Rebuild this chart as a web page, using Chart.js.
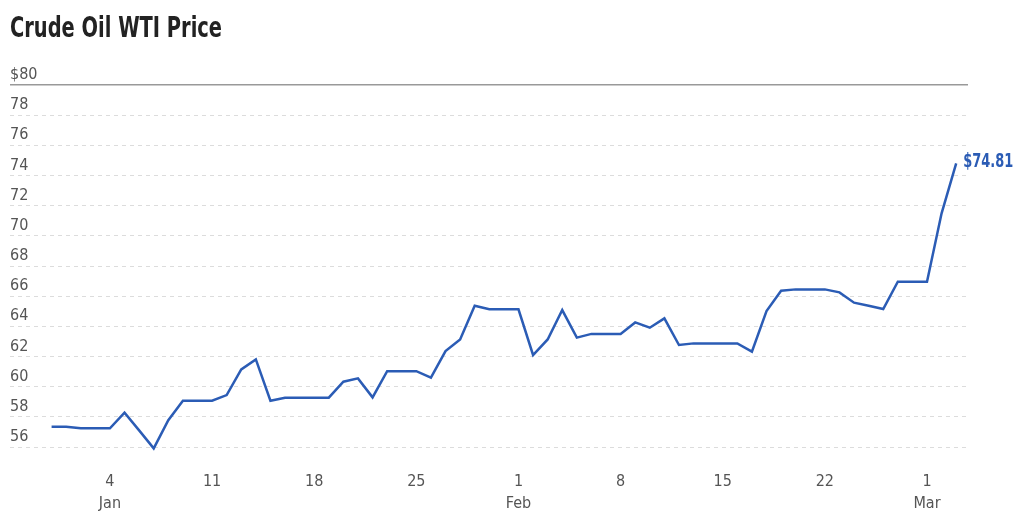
<!DOCTYPE html>
<html>
<head>
<meta charset="utf-8">
<script src="https://cdn.jsdelivr.net/npm/chart.js@4/dist/chart.umd.min.js"></script>
<style>
  body { margin: 0; background: #fff; }
  #wrap { position: relative; width: 1024px; height: 518px; }
  #title {
    position: absolute; left: 10px; top: 14px; white-space: nowrap;
    font: bold 28px 'Liberation Sans Narrow', 'DejaVu Sans Condensed', sans-serif;
    line-height: 1; color: #222; transform-origin: 0 0;
  }
  canvas { position: absolute; left: 0; top: 0; }
</style>
</head>
<body>
<div id="wrap">
  <canvas id="myChart" width="1024" height="518"></canvas>
  <div id="title">Crude Oil WTI Price</div>
</div>
<script>
const FONT = "'Liberation Sans Narrow', 'DejaVu Sans Condensed', sans-serif";
const BLUE = '#2b5cb5';

// daily dates (weekends / holidays carry the previous close)
const dates = [
    '2025-12-31',
    '2026-01-01', '2026-01-02', '2026-01-03', '2026-01-04', '2026-01-05', '2026-01-06', '2026-01-07',
    '2026-01-08', '2026-01-09', '2026-01-10', '2026-01-11', '2026-01-12', '2026-01-13', '2026-01-14',
    '2026-01-15', '2026-01-16', '2026-01-17', '2026-01-18', '2026-01-19', '2026-01-20', '2026-01-21',
    '2026-01-22', '2026-01-23', '2026-01-24', '2026-01-25', '2026-01-26', '2026-01-27', '2026-01-28',
    '2026-01-29', '2026-01-30', '2026-01-31', '2026-02-01', '2026-02-02', '2026-02-03', '2026-02-04',
    '2026-02-05', '2026-02-06', '2026-02-07', '2026-02-08', '2026-02-09', '2026-02-10', '2026-02-11',
    '2026-02-12', '2026-02-13', '2026-02-14', '2026-02-15', '2026-02-16', '2026-02-17', '2026-02-18',
    '2026-02-19', '2026-02-20', '2026-02-21', '2026-02-22', '2026-02-23', '2026-02-24', '2026-02-25',
    '2026-02-26', '2026-02-27', '2026-02-28', '2026-03-01', '2026-03-02', '2026-03-03',
];

const prices = [
    57.34,
    57.34, 57.24, 57.24, 57.24, 58.27, 57.10, 55.91,
    57.78, 59.07, 59.07, 59.07, 59.44, 61.14, 61.81,
    59.07, 59.27, 59.27, 59.27, 59.27, 60.33, 60.55,
    59.29, 61.03, 61.03, 61.03, 60.60, 62.36, 63.13,
    65.37, 65.13, 65.13, 65.13, 62.10, 63.13, 65.08,
    63.25, 63.50, 63.50, 63.50, 64.26, 63.91, 64.53,
    62.76, 62.87, 62.87, 62.87, 62.87, 62.32, 65.01,
    66.36, 66.45, 66.45, 66.45, 66.25, 65.57, 65.36,
    65.15, 66.96, 66.96, 66.96, 71.49, 74.81,
];

const tickDates = ['2026-01-04', '2026-01-11', '2026-01-18', '2026-01-25', '2026-02-01',
                   '2026-02-08', '2026-02-15', '2026-02-22', '2026-03-01'];
const tickDays = ['4', '11', '18', '25', '1', '8', '15', '22', '1'];
const tickMonths = ['Jan', '', '', '', 'Feb', '', '', '', 'Mar'];

const yMin = 56, yMax = 80, yStep = 2;

const DAY0 = Date.parse(dates[0]);
const dayIndex = d => (Date.parse(d) - DAY0) / 864e5;

const points = dates.map((d, i) => ({ x: dayIndex(d), y: prices[i] }));
const tickPos = tickDates.map(dayIndex);

// squeeze the title to the condensed width of the original
const title = document.getElementById('title');
title.style.transform = `scaleX(${212 / title.getBoundingClientRect().width})`;

const endLabel = {
    id: 'endLabel',
    afterDatasetsDraw(chart) {
        const meta = chart.getDatasetMeta(0);
        const pt = meta.data[meta.data.length - 1];
        const ctx = chart.ctx;
        const txt = '$' + prices[prices.length - 1].toFixed(2);
        ctx.save();
        ctx.font = 'bold 20px ' + FONT;
        ctx.fillStyle = BLUE;
        ctx.textAlign = 'left';
        ctx.textBaseline = 'middle';
        const s = Math.min(1, 50 / ctx.measureText(txt).width);
        ctx.translate(pt.x + 7, pt.y - 1);
        ctx.scale(s, 1);
        ctx.fillText(txt, 0, 0);
        ctx.restore();
    }
};

new Chart(document.getElementById('myChart'), {
    type: 'line',
    data: {
        datasets: [{
            data: points,
            borderColor: BLUE,
            borderWidth: 2.5,
            pointRadius: 0,
            tension: 0,
            clip: false,
        }]
    },
    options: {
        responsive: false,
        animation: false,
        layout: { padding: { left: 10, right: 56, top: 85, bottom: 0 } },
        plugins: {
            legend: { display: false },
            tooltip: { enabled: false },
        },
        scales: {
            x: {
                type: 'linear',
                min: -2.85,
                max: 62.81,
                grid: { display: false, drawTicks: false },
                border: { display: false },
                afterFit(axis) { axis.height = 71; },
                afterBuildTicks(axis) { axis.ticks = tickPos.map(v => ({ value: v })); },
                ticks: {
                    padding: 24,
                    color: '#555',
                    font: { family: FONT, size: 16, lineHeight: 1.35 },
                    maxRotation: 0,
                    autoSkip: false,
                    callback(v) {
                        const i = tickPos.indexOf(v);
                        if (i < 0) return '';
                        return tickMonths[i] ? [tickDays[i], tickMonths[i]] : tickDays[i];
                    }
                }
            },
            y: {
                min: yMin,
                max: yMax,
                afterFit(axis) { axis.width = 0; },
                grid: {
                    drawTicks: false,
                    color: c => c.tick && c.tick.value === yMax ? '#999' : '#dcdcdc',
                    lineWidth: c => c.tick && c.tick.value === yMax ? 1.5 : 1,
                },
                border: {
                    display: false,
                    dash: c => c.tick && c.tick.value === yMax ? [] : [4, 4],
                },
                ticks: {
                    stepSize: yStep,
                    mirror: true,
                    padding: 0,
                    labelOffset: -10,
                    color: '#555',
                    font: { family: FONT, size: 16 },
                    callback: v => v === yMax ? '$' + v : String(v),
                }
            }
        }
    },
    plugins: [endLabel]
});
</script>
</body>
</html>
